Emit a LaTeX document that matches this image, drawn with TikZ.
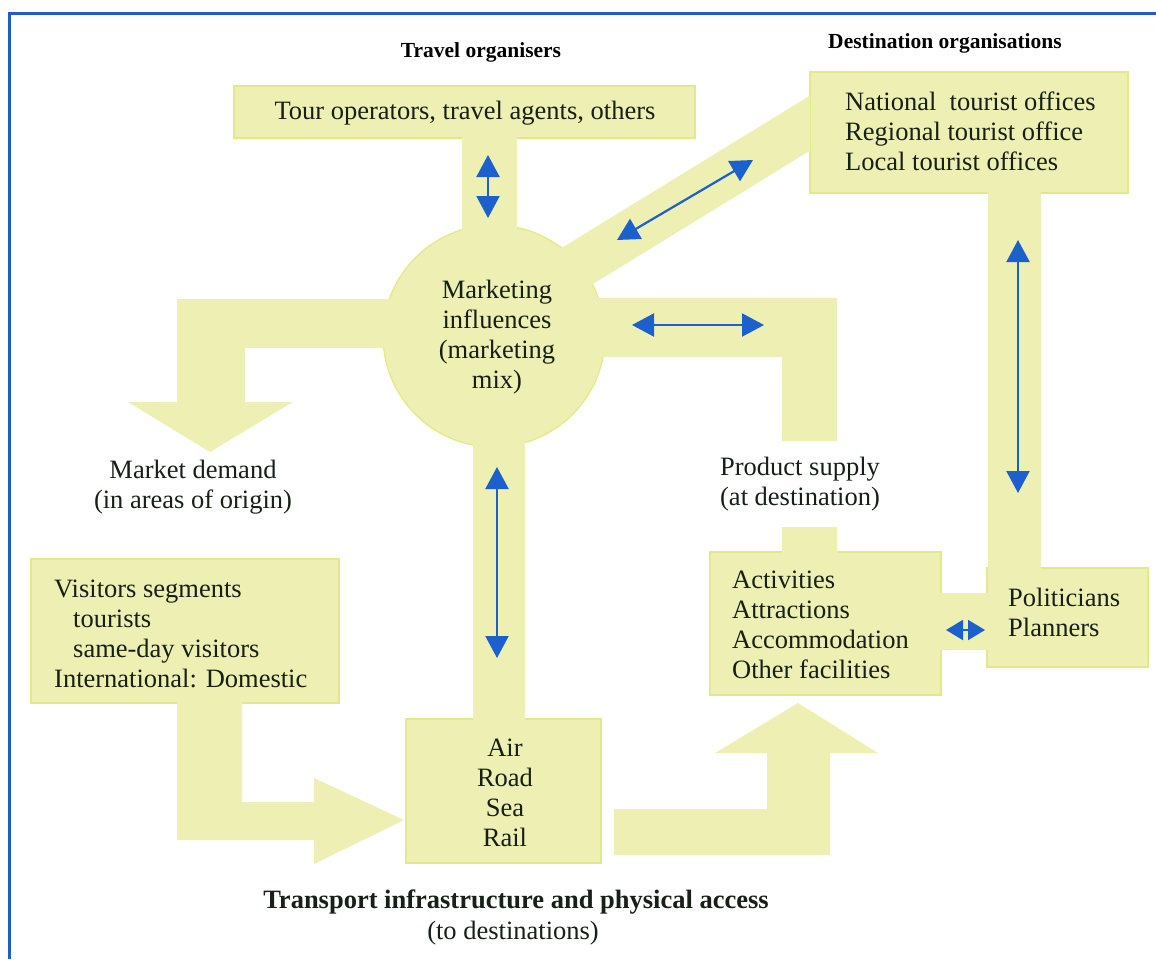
\documentclass[tikz,border=0pt]{standalone}
\usepackage{fontspec}
\setmainfont{Liberation Serif}
\usetikzlibrary{arrows.meta}
\definecolor{bandc}{RGB}{237,240,178}
\definecolor{edgec}{RGB}{228,233,135}
\definecolor{arrc}{RGB}{28,96,205}
\definecolor{framec}{RGB}{32,92,205}
\definecolor{ink}{RGB}{22,32,22}
\begin{document}
\begin{tikzpicture}[x=1pt,y=-1pt,
  box/.style={fill=bandc,draw=edgec,line width=1.2pt,inner sep=0pt,outer sep=0pt},
  band/.style={fill=bandc},
  txt/.style={text=ink,inner sep=0pt,font=\fontsize{26.5}{30}\selectfont},
  hdr/.style={text=black,inner sep=0pt,font=\fontsize{21.5}{24}\selectfont\bfseries},
  barrow/.style={draw=arrc,line width=2.2pt,{Triangle[length=22pt,width=23pt]}-{Triangle[length=22pt,width=23pt]}},
  sarrow/.style={draw=arrc,line width=2pt,{Triangle[length=17pt,width=20pt]}-{Triangle[length=17pt,width=20pt]}}]
\useasboundingbox (0,0) rectangle (1156,959);
\fill[white] (0,0) rectangle (1156,959);
% frame
\draw[framec,line width=3pt] (9,959) -- (9,13) -- (1156,13);

% boxes
\node[box,minimum width=461pt,minimum height=52pt] (tour) at (464.5,112) {};
\node[box,minimum width=318pt,minimum height=121pt] (dest) at (969,132.5) {};
\node[box,minimum width=308pt,minimum height=144pt] (vis) at (185,631) {};
\node[box,minimum width=231pt,minimum height=143pt] (act) at (825.5,623.5) {};
\node[box,minimum width=161pt,minimum height=99pt] (pol) at (1067.5,617.5) {};
\node[box,minimum width=195pt,minimum height=144pt] (air) at (503.5,791) {};
\node[box,circle,minimum size=222pt] (mkt) at (494,336) {};

% bands
\fill[band] (462,136) rectangle (517,262);
\fill[band] (540,261.3) -- (810,95.5) -- (810,150.7) -- (540,316.5) -- cycle;
\fill[band] (560,298) -- (837,298) -- (837,441) -- (782,441) -- (782,357) -- (560,357) -- cycle;
\fill[band] (782,527) rectangle (837,554);
\fill[band] (430,299) -- (177,299) -- (177,402) -- (128,402) -- (210,452) -- (293,402) -- (245,402) -- (245,348) -- (430,348) -- cycle;
\fill[band] (473,420) rectangle (525,721);
\fill[band] (988,191) rectangle (1041,570);
\fill[band] (939,593) rectangle (989,650);
\fill[band] (177,701) -- (242,701) -- (242,802) -- (314,802) -- (314,778) -- (404,820) -- (314,864) -- (314,840) -- (177,840) -- cycle;
\fill[band] (614,809) -- (767,809) -- (767,753) -- (715,753) -- (798,703) -- (878,753) -- (830,753) -- (830,855) -- (614,855) -- cycle;

% texts
\node[hdr] (h1) at (481,52) {Travel organisers};
\node[hdr] (h2) at (945,43) {Destination organisations};
\node[txt] (tourT) at (465,113) {Tour operators, travel agents, others};
\node[txt,anchor=west,align=left] (destT) at (845,131.5) {National\ \ tourist offices\\Regional tourist office\\Local tourist offices};
\node[txt,align=center] (mktT) at (497,337) {Marketing\\influences\\(marketing\\mix)};
\node[txt,align=center] (demand) at (193,487) {Market demand\\(in areas of origin)};
\node[txt,align=center] (supply) at (800,484) {Product supply\\(at destination)};
\node[txt,anchor=west,align=left] (visT) at (54,634) {Visitors segments\\\hspace*{19pt}tourists\\\hspace*{19pt}same-day visitors\\International: Domestic};
\node[txt,anchor=west,align=left] (actT) at (732,625) {Activities\\Attractions\\Accommodation\\Other facilities};
\node[txt,anchor=west,align=left] (polT) at (1008,612.5) {Politicians\\Planners};
\node[txt,align=center] (airT) at (505,792.5) {Air\\Road\\Sea\\Rail};
\node[txt,font=\fontsize{26.5}{30}\selectfont\bfseries] (trT) at (516,902) {Transport infrastructure and physical access};
\node[txt] (tdT) at (513,933) {(to destinations)};

% blue double arrows
\coordinate (a1s) at (488,155); \coordinate (a1e) at (488,218);
\coordinate (a2s) at (617,240); \coordinate (a2e) at (753,160);
\coordinate (a3s) at (632,325); \coordinate (a3e) at (764,325);
\coordinate (a4s) at (1018,240); \coordinate (a4e) at (1018,493);
\coordinate (a5s) at (497,467); \coordinate (a5e) at (497,658);
\coordinate (a6s) at (946,630); \coordinate (a6e) at (985,630);
\draw[barrow] (a1s) -- (a1e);
\draw[barrow] (a2s) -- (a2e);
\draw[barrow] (a3s) -- (a3e);
\draw[barrow] (a4s) -- (a4e);
\draw[barrow] (a5s) -- (a5e);
\draw[sarrow] (a6s) -- (a6e);
\end{tikzpicture}
\end{document}
